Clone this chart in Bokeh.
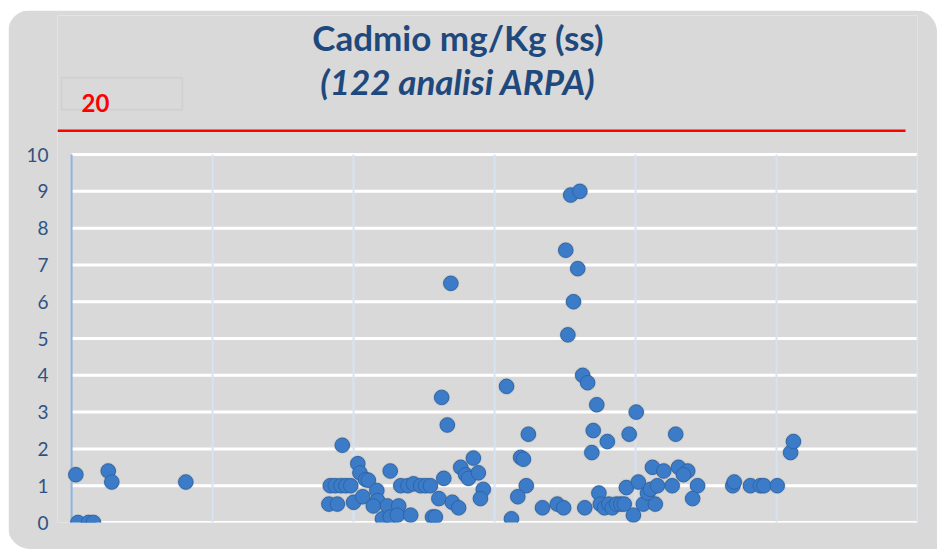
from bokeh.plotting import figure
from bokeh.models import Range1d, FixedTicker, Label, BoxAnnotation
from bokeh.embed import file_html
from bokeh.resources import INLINE

# ---- data ----
title_main = "Cadmio mg/Kg (ss)"
title_sub = "(122 analisi ARPA)"
limit_label = "20"
y_ticks = [0, 1, 2, 3, 4, 5, 6, 7, 8, 9, 10]
x_grid = [20, 40, 60, 80, 100, 120]

x_left = [0.6, 0.9, 2.4, 3.1, 5.2, 5.7, 16.2]
y_left = [1.3, 0.0, 0.0, 0.0, 1.4, 1.1, 1.1]

x_mid = [38.4, 40.6, 40.9, 41.7, 42.1, 36.7, 37.4, 38.2, 38.9, 39.6,
         36.5, 37.7, 40.0, 41.3, 43.3, 43.4, 42.8, 44.1, 44.8, 46.4,
         45.2, 46.2, 45.2, 48.1, 46.7, 47.7, 48.5, 49.5, 50.2, 50.9,
         52.1, 52.8, 51.2, 51.6, 54.0, 54.9, 55.2, 55.9, 56.3, 57.0,
         57.7, 58.4, 58.0, 53.3, 52.5, 53.8]
y_mid = [2.1, 1.6, 1.35, 1.17, 1.15, 1.0, 1.0, 1.0, 1.0, 1.0,
         0.5, 0.5, 0.55, 0.7, 0.87, 0.6, 0.45, 0.1, 0.45, 0.45,
         0.15, 0.2, 1.4, 0.2, 1.0, 1.0, 1.05, 1.0, 1.0, 1.0,
         0.65, 1.2, 0.15, 0.15, 0.55, 0.4, 1.5, 1.3, 1.2, 1.75,
         1.35, 0.9, 0.65, 2.65, 3.4, 6.5]

x_center = [61.7, 64.8, 63.7, 64.1, 64.5, 63.3, 62.4, 66.8, 68.9, 69.8,
            72.8, 72.5, 73.2, 74.5, 74.0, 76.0, 73.8, 74.8, 75.0, 75.6,
            76.2, 76.7, 77.3, 77.9, 78.4, 80.1, 79.1, 85.7, 78.7, 80.4,
            79.7, 81.1, 82.8, 81.7, 82.1, 82.4, 84.0, 83.1, 85.2, 86.1,
            87.4, 86.8, 88.8, 88.1]
y_center = [3.7, 2.4, 1.77, 1.72, 1.0, 0.7, 0.1, 0.4, 0.5, 0.4,
            0.4, 4.0, 3.8, 3.2, 2.5, 2.2, 1.9, 0.8, 0.5, 0.4,
            0.5, 0.4, 0.5, 0.5, 0.5, 3.0, 2.4, 2.4, 0.95, 1.1,
            0.2, 0.5, 0.5, 0.8, 0.9, 1.5, 1.4, 1.0, 1.0, 1.5,
            1.4, 1.3, 1.0, 0.65]

x_peak = [70.8, 72.1, 70.1, 71.8, 71.2, 70.4]
y_peak = [8.9, 9.0, 7.4, 6.9, 6.0, 5.1]

x_right = [93.8, 94.0, 96.3, 97.7, 98.2, 100.1, 102.0, 102.4]
y_right = [1.0, 1.1, 1.0, 1.0, 1.0, 1.0, 1.9, 2.2]

xs = x_left + x_mid + x_center + x_peak + x_right
ys = y_left + y_mid + y_center + y_peak + y_right

limit_line_y = 10.65

# ---- figure ----
BG = "#d9d9d9"
p = figure(width=929, height=539, output_backend="svg", toolbar_location=None,
           x_range=Range1d(-2, 120), y_range=Range1d(0, 13.78),
           min_border_left=49, min_border_right=20, min_border_top=5,
           min_border_bottom=27,
           styles={"margin-left": "8px", "margin-top": "10px",
                   "border-radius": "22px 22px 0 22px", "overflow": "hidden"})
p.background_fill_color = BG
p.border_fill_color = BG
p.outline_line_color = None
p.xgrid.visible = False
p.ygrid.visible = False
p.xaxis.visible = False

ax = p.yaxis[0]
ax.ticker = FixedTicker(ticks=y_ticks)
ax.axis_line_color = None
ax.major_tick_line_color = None
ax.minor_tick_line_color = None
ax.major_label_standoff = 3
ax.major_label_text_font = "Lato"
ax.major_label_text_font_size = "19px"
ax.major_label_text_color = "#2f5283"

# horizontal grid lines (white)
p.segment(x0=[0] * len(y_ticks), x1=[120] * len(y_ticks), y0=y_ticks, y1=y_ticks,
          line_color="white", line_width=3)
# vertical grid lines (light blue)
p.segment(x0=x_grid, x1=x_grid, y0=[0] * len(x_grid), y1=[10] * len(x_grid),
          line_color="#d6e3f3", line_width=2)
# y axis line
p.segment(x0=[0], x1=[0], y0=[0], y1=[10], line_color="#8db4e2", line_width=2)

# limit line (red)
p.segment(x0=[-2], x1=[118.3], y0=[limit_line_y], y1=[limit_line_y],
          line_color="#ff0000", line_width=2.5)

# limit box
p.add_layout(BoxAnnotation(left=-1.4, right=15.7, bottom=11.22, top=12.09,
                           fill_color=None, line_color="#bfbfbf", line_width=2))
p.add_layout(Label(x=1.4, y=11.4, text=limit_label, text_color="#ff0000",
                   text_font="Lato", text_font_style="bold", text_font_size="24px",
                   text_baseline="middle"))

# titles
p.add_layout(Label(x=54.8, y=13.2, text=title_main, text_color="#1f497d",
                   text_font="Lato", text_font_style="bold", text_font_size="35px",
                   text_align="center", text_baseline="middle"))
p.add_layout(Label(x=54.8, y=12.0, text=title_sub, text_color="#1f497d",
                   text_font="Lato", text_font_style="bold italic", text_font_size="35px",
                   text_align="center", text_baseline="middle"))

# points (soft shadow + marker)
p.scatter(xs, ys, size=17, fill_color="#7a7a7a", fill_alpha=0.22, line_color=None)
p.scatter(xs, ys, size=14.5, fill_color="#3b7bc8", line_color="#2d66a8",
          line_width=1)

open("out.html", "w").write(file_html(p, INLINE))
